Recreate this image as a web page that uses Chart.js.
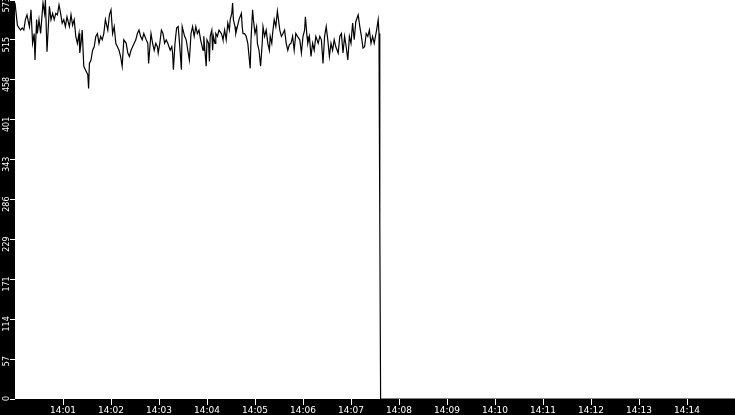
<!DOCTYPE html>
<html>
<head>
<meta charset="utf-8">
<script src="https://cdn.jsdelivr.net/npm/chart.js@4.4.1/dist/chart.umd.min.js"></script>
<style>
  html, body { margin: 0; padding: 0; background: #000; }
  #chart { display: block; }
</style>
</head>
<body>
<canvas id="chart" width="735" height="415"></canvas>
<script>
// seconds after 14:00:00
const timesA = [
  0, 3, 5, 7, 9, 11, 13, 15, 18, 20,
  22, 24, 25, 27, 28, 30, 32, 34, 35, 37,
  38, 40, 43, 45, 47, 49, 51, 53, 55, 57,
  59, 61, 63, 65, 68, 70, 72, 74, 76, 78,
  80, 81, 83, 84, 86, 88, 91, 92, 93, 95,
  97, 99, 101, 103, 105, 107, 109, 111, 113, 116,
  118, 120, 122, 124, 126, 128, 130, 132, 134, 136,
  139, 141, 143, 145, 147, 149, 151, 153, 155, 157,
  159, 161, 164, 166, 167, 169, 170, 172, 174, 176,
  178, 179, 181, 183, 185, 187, 189, 191, 194, 196,
  197, 198, 200, 202, 204, 206, 208, 209, 212, 214,
  216, 218, 220, 222, 224, 226, 228
];
const valuesA = [
  569, 537, 533, 530, 533, 530, 545, 552, 535, 559,
  511, 525, 487, 545, 525, 545, 525, 554, 569, 554,
  573, 499, 564, 545, 554, 545, 554, 552, 566, 554,
  540, 545, 535, 549, 535, 552, 537, 545, 521, 511,
  525, 497, 516, 530, 478, 473, 466, 446, 482, 487,
  501, 506, 521, 525, 511, 521, 516, 525, 545, 530,
  552, 559, 525, 535, 511, 506, 501, 492, 478, 516,
  511, 497, 492, 501, 506, 511, 516, 525, 530, 521,
  516, 525, 516, 511, 482, 511, 525, 511, 501, 511,
  506, 497, 511, 530, 525, 511, 516, 511, 501, 506,
  497, 473, 511, 533, 535, 506, 473, 535, 521, 516,
  501, 487, 525, 535, 521, 535, 525
];

const timesB = [
  230, 232, 235, 236, 237, 239, 240, 242, 243, 244,
  246, 247, 248, 250, 251, 253, 255, 258, 259, 260,
  262, 264, 266, 268, 269, 271, 272, 273, 275, 276,
  278, 280, 283, 284, 285, 287, 289, 291, 293, 294,
  295, 297, 298, 300, 302, 303, 305, 307, 309, 310,
  312, 314, 316, 318, 319, 321, 322, 324, 326, 328,
  331, 333, 335, 337, 339, 341, 343, 345, 347, 349,
  351, 353, 356, 358, 360, 362, 363, 365, 366, 368,
  370, 372, 374, 376, 379, 381, 383, 385, 387, 389,
  391, 393, 395, 397, 399, 401, 404, 406, 408, 410,
  412, 414, 416, 418, 420, 422, 424, 426, 429, 431,
  433, 435, 437, 439, 441, 443, 445, 447, 449, 452,
  454, 455
];
const valuesB = [
  530, 516, 501, 521, 506, 478, 516, 511, 485, 521,
  530, 501, 521, 511, 525, 521, 530, 525, 521, 516,
  530, 516, 540, 530, 545, 554, 569, 545, 535, 525,
  535, 545, 554, 535, 525, 525, 521, 511, 487, 475,
  516, 559, 545, 525, 535, 511, 501, 478, 511, 535,
  521, 530, 511, 501, 521, 511, 525, 545, 535, 557,
  530, 521, 525, 530, 511, 501, 509, 511, 521, 501,
  525, 521, 516, 497, 521, 530, 549, 521, 511, 521,
  492, 511, 501, 521, 511, 521, 516, 482, 521, 535,
  516, 492, 511, 501, 516, 506, 497, 521, 525, 497,
  521, 506, 487, 521, 511, 540, 516, 542, 552, 535,
  521, 504, 506, 525, 521, 530, 511, 521, 511, 530,
  545, 525
];

// the feed drops out and stays at zero
const timesC = [456, 457, 900];
const valuesC = [253, 0, 0];

const xTickLabels = ["14:01", "14:02", "14:03", "14:04", "14:05", "14:06", "14:07",
  "14:08", "14:09", "14:10", "14:11", "14:12", "14:13", "14:14"];
const yTickLabels = ["0", "57", "114", "171", "229", "286", "343", "401", "458", "515", "573"];
const yMax = 573.2;
const xMax = 900;

const times = timesA.concat(timesB, timesC);
const values = valuesA.concat(valuesB, valuesC);
const points = times.map((t, i) => ({ x: t, y: values[i] }));

const paintBackground = {
  id: "paintBackground",
  beforeDraw(chart) {
    const { ctx, chartArea } = chart;
    ctx.save();
    ctx.fillStyle = "#000";
    ctx.fillRect(0, 0, chart.width, chart.height);
    ctx.fillStyle = "#fff";
    ctx.fillRect(chartArea.left, chartArea.top, chartArea.right - chartArea.left, chartArea.bottom - chartArea.top);
    ctx.restore();
  }
};

new Chart(document.getElementById("chart"), {
  type: "line",
  data: {
    datasets: [{
      data: points,
      borderColor: "#000",
      borderWidth: 1.2,
      pointRadius: 0,
      tension: 0,
      fill: false
    }]
  },
  options: {
    responsive: false,
    animation: false,
    devicePixelRatio: 1,
    layout: { padding: 0 },
    plugins: {
      legend: { display: false },
      tooltip: { enabled: false }
    },
    scales: {
      x: {
        type: "linear",
        min: 0,
        max: xMax,
        border: { display: false },
        grid: { drawOnChartArea: false, color: "#fff", tickLength: 6, tickColor: "#fff" },
        ticks: {
          color: "#fff",
          autoSkip: false,
          maxRotation: 0,
          padding: 0,
          font: { family: "DejaVu Sans", size: 9 },
          callback: (value, index) => xTickLabels[index]
        },
        afterBuildTicks: (scale) => {
          scale.ticks = xTickLabels.map((_, i) => ({ value: (i + 1) * 60 }));
        },
        afterFit: (scale) => {
          scale.height = 16;
          scale.paddingLeft = 0;
          scale.paddingRight = 0;
        }
      },
      y: {
        min: 0,
        max: yMax,
        border: { display: false },
        grid: { drawOnChartArea: false, color: "#fff", tickLength: 5, tickColor: "#fff" },
        ticks: {
          color: "#fff",
          autoSkip: false,
          minRotation: 90,
          maxRotation: 90,
          padding: 3,
          labelOffset: -3,
          font: { family: "DejaVu Sans", size: 8 },
          callback: (value, index) => yTickLabels[index]
        },
        afterBuildTicks: (scale) => {
          scale.ticks = yTickLabels.map((_, i) => ({ value: i * yMax / 10 }));
        },
        afterFit: (scale) => {
          scale.width = 15;
          scale.paddingTop = 0;
          scale.paddingBottom = 0;
        }
      }
    }
  },
  plugins: [paintBackground]
});
</script>
</body>
</html>
